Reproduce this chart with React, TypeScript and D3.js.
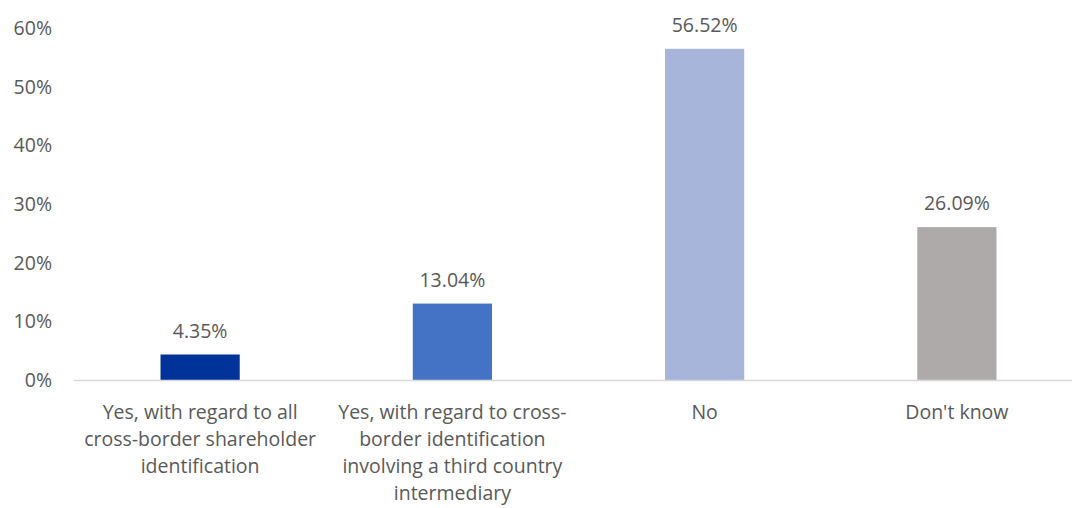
import React from "react";
import * as d3 from "d3";

const categories = ["Yes-all", "Yes-third", "No", "Dont-know"];
const categoryLabels: string[][] = [
  ["Yes, with regard to all", "cross-border shareholder", "identification"],
  ["Yes, with regard to cross-", "border identification", "involving a third country", "intermediary"],
  ["No"],
  ["Don't know"],
];
const values = [4.35, 13.04, 56.52, 26.09];
const valueLabels = ["4.35%", "13.04%", "56.52%", "26.09%"];
const colors = ["#003399", "#4472C4", "#A7B5DA", "#AEAAAA"];
const yTicks = [0, 10, 20, 30, 40, 50, 60];

const W = 1072;
const H = 508;
const FONT = "'Open Sans', 'Noto Sans', sans-serif";
const TEXT = "#595959";
const FS = 19.5;

export default function App() {
  const x = d3.scaleBand<string>().domain(categories).range([74, 1083]).paddingInner(0.686).paddingOuter(0.343);
  const y = d3.scaleLinear().domain([0, 60]).range([380, 28.4]);
  return (
    <svg width={W} height={H} style={{ position: "absolute", left: 0, top: 0, background: "#fff" }} fontFamily={FONT}>
      {yTicks.map((t) => (
        <text key={t} x={52} y={y(t)} dy="0.35em" textAnchor="end" fontSize={FS} fill={TEXT}>
          {t}%
        </text>
      ))}
      {categories.map((c, i) => (
        <rect key={c} x={x(c)} y={y(values[i])} width={x.bandwidth()} height={y(0) - y(values[i])} fill={colors[i]} />
      ))}
      <line x1={74} x2={1072} y1={y(0) + 0.5} y2={y(0) + 0.5} stroke="#D9D9D9" strokeWidth={1.5} />
      {categories.map((c, i) => (
        <text key={c} x={(x(c) as number) + x.bandwidth() / 2} y={y(values[i]) - 17} textAnchor="middle" fontSize={FS} fill={TEXT}>
          {valueLabels[i]}
        </text>
      ))}
      {categories.map((c, i) => (
        <text key={c} x={(x(c) as number) + x.bandwidth() / 2} y={419} textAnchor="middle" fontSize={FS} fill={TEXT}>
          {categoryLabels[i].map((l, j) => (
            <tspan key={j} x={(x(c) as number) + x.bandwidth() / 2} dy={j === 0 ? 0 : 27}>
              {l}
            </tspan>
          ))}
        </text>
      ))}
    </svg>
  );
}
